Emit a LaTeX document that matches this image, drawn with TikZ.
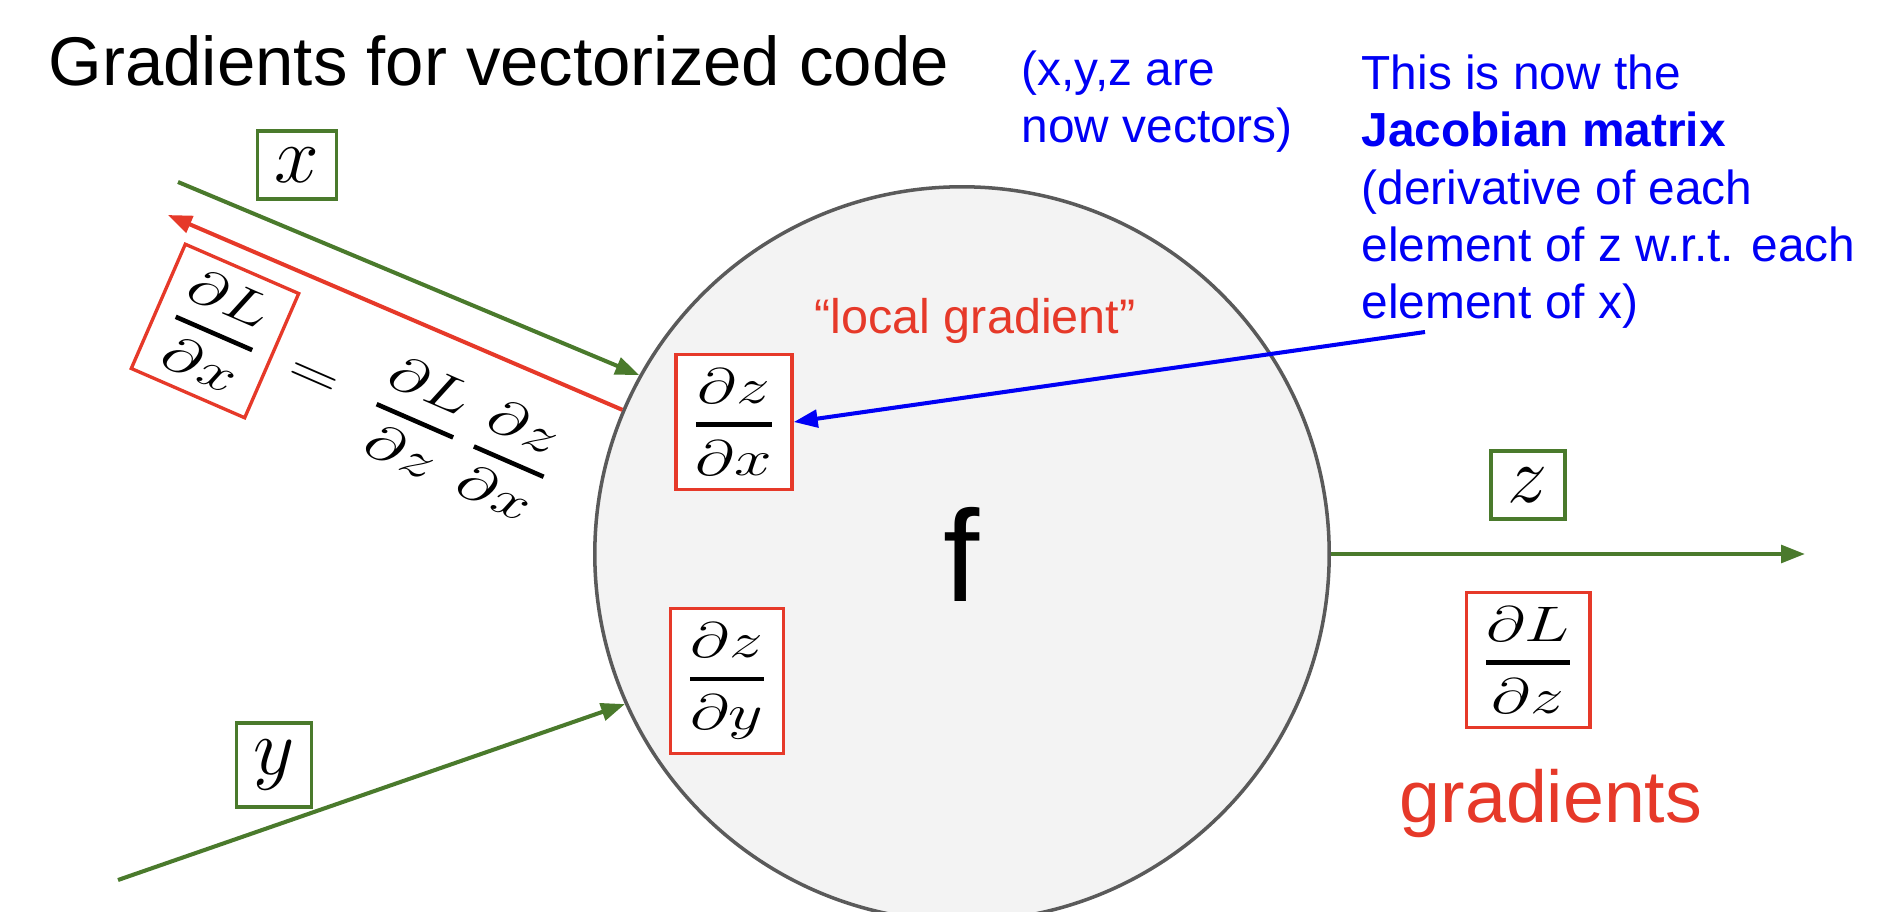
\RequirePackage{fix-cm}
\documentclass[tikz,border=0pt]{standalone}
\usepackage{amsmath}
\usepackage{graphicx}
\usepackage{fontspec}
\setmainfont{Liberation Sans}
\usetikzlibrary{arrows.meta,positioning}
\definecolor{fwdgreen}{RGB}{74,122,44}
\definecolor{gradred}{RGB}{230,57,41}
\definecolor{jacblue}{RGB}{0,0,245}
\definecolor{nodegray}{RGB}{243,243,243}
\definecolor{rimgray}{RGB}{90,90,90}
\newcommand{\wide}[1]{\scalebox{1.35}[1]{$\displaystyle#1$}}
\newcommand{\pd}[2]{\genfrac{}{}{1.3pt}{0}{\partial #1}{\partial #2}}

\begin{document}
\begin{tikzpicture}[x=0.01cm,y=-0.01cm,
	tip/.style={-{Triangle[length=6.8pt,width=5pt]}},
	fwd/.style={fwdgreen,line width=1.15pt,tip},
	bwd/.style={gradred,line width=1.15pt,tip},
	varbox/.style={draw=fwdgreen,fill=white,line width=0.95pt,inner sep=4.8pt,font=\fontsize{22.8}{24}\selectfont},
	fracbox/.style={draw=gradred,fill=white,line width=0.95pt,inner sep=4.1pt,font=\fontsize{14.2}{16}\selectfont},
	note/.style={jacblue,align=left,anchor=north west,inner sep=0pt,font=\fontsize{13.6}{16.3}\selectfont}]
	\useasboundingbox (0,0) rectangle (1878,912);

	\node[anchor=base west,inner sep=0pt,font=\fontsize{19.6}{23}\selectfont] (title) at (48,85) {Gradients for vectorized code};
	\node[note] (vecnote) at (1021,50) {(x,y,z are\\now vectors)};
	\node[note] (jacnote) at (1361,54) {This is now the\\\textbf{Jacobian matrix}\\(derivative of each\\element of z w.r.t. each\\element of x)};

	\node[circle,draw=rimgray,fill=nodegray,line width=1pt,minimum size=7.34cm,inner sep=0pt,font=\fontsize{37}{42}\selectfont] (fnode) at (962,554) {f};
	\node[gradred,anchor=base,inner sep=0pt,font=\fontsize{13.8}{16}\selectfont] (localgrad) at (975,333) {“local gradient”};
	\node[fracbox] (dzdx) at (734,422) {\wide{\pd{z}{x}}};
	\node[fracbox] (dzdy) at (727,681) {\wide{\pd{z}{y}}};

	\node[varbox] (xvar) at (297,165) {$x$};
	\node[varbox] (yvar) at (274,765) {$y$};
	\node[varbox] (zvar) at (1528,485) {$z$};
	\node[fracbox] (dLdz) at (1528,660) {\wide{\pd{L}{z}}};
	\node[gradred,anchor=base,inner sep=0pt,font=\fontsize{20.9}{24}\selectfont] (gradlabel) at (1551,822) {gradients};

	\node[fracbox,rotate=-23.5] (dLdx) at (215,331) {\wide{\pd{L}{x}}};
	\node[rotate=-23.5,anchor=west,inner sep=0pt,font=\fontsize{14.2}{16}\selectfont] (chain) at (dLdx.east) {\wide{{}={}\;\pd{L}{z}\,\pd{z}{x}}};

	\coordinate (xstart) at (178,182);
	\coordinate (xgrad) at (168,215);
	\coordinate (ystart) at (118,880);
	\coordinate (zend) at (1805,554);
	\coordinate (jacend) at (1425,332);

	\draw[fwd] (xstart) -- (fnode.151.7);
	\draw[bwd] (fnode.157.2) -- (xgrad);
	\draw[fwd] (ystart) -- (fnode.204.4);
	\draw[fwd] (fnode.east) -- (zend);
	\draw[jacblue,line width=1.15pt,tip] (jacend) -- (dzdx.east);
\end{tikzpicture}
\end{document}
